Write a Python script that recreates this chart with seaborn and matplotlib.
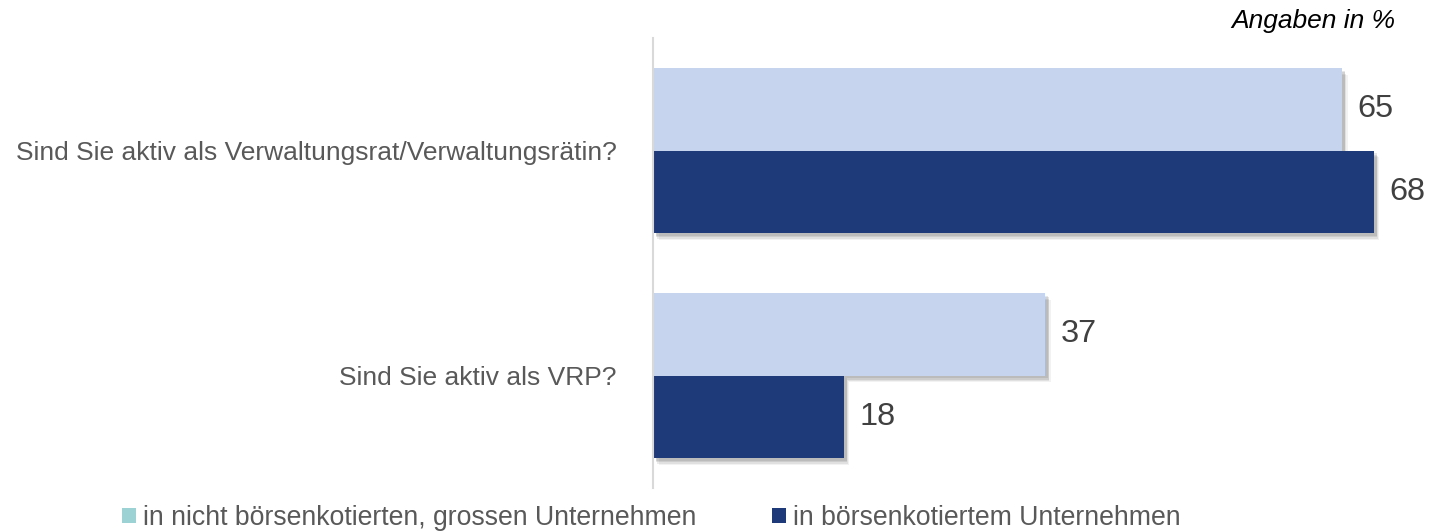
import matplotlib
matplotlib.use("Agg")
import matplotlib.pyplot as plt
import matplotlib.patheffects as pe
from matplotlib.patches import Patch
import seaborn as sns
import pandas as pd

categories = ["Sind Sie aktiv als Verwaltungsrat/Verwaltungsrätin?", "Sind Sie aktiv als VRP?"]
series_names = ["in nicht börsenkotierten, grossen Unternehmen", "in börsenkotiertem Unternehmen"]
values_nicht = [65, 37]
values_kotiert = [68, 18]
note = "Angaben in %"

bar_colors = ["#C6D4EE", "#1F3A78"]
legend_colors = ["#9DD2D5", "#1F3A78"]

rows = []
for c, a, b in zip(categories, values_nicht, values_kotiert):
    rows.append({"cat": c, "series": series_names[0], "val": a})
    rows.append({"cat": c, "series": series_names[1], "val": b})
df = pd.DataFrame(rows)

sns.set_style("white")
plt.rcParams['font.family'] = ['Liberation Sans', 'DejaVu Sans']

W, H = 1429, 532
fig = plt.figure(figsize=(W / 100, H / 100), dpi=100)
ax = fig.add_axes([653 / W, 1 - 488 / H, (1400 - 653) / W, (488 - 38) / H])

sns.barplot(data=df, y="cat", x="val", hue="series", order=categories,
            hue_order=series_names, palette=bar_colors, width=0.733,
            orient="h", ax=ax, legend=False, saturation=1, linewidth=0, edgecolor="none")

shadow = []
for off, a in [((4, -5), 0.08), ((3, -4), 0.12), ((2.5, -3), 0.15), ((2, -2), 0.15)]:
    shadow.append(pe.SimplePatchShadow(offset=off, shadow_rgbFace="#606060", alpha=a))
for p in ax.patches:
    p.set_path_effects(shadow + [pe.Normal()])

for cont in ax.containers:
    ax.bar_label(cont, padding=11, fontsize=23.4, color="#404040")

ax.set_xlim(0, (1400 - 653) / 10.6)
ax.set_ylim(1.5, -0.5)
ax.set_xlabel("")
ax.set_ylabel("")
ax.set_xticks([])
ax.tick_params(axis="y", length=0, pad=26, labelsize=19.0, labelcolor="#595959")
for s in ["top", "right", "bottom"]:
    ax.spines[s].set_visible(False)
ax.spines["left"].set_color("#D9D9D9")
ax.spines["left"].set_linewidth(1.5)

fig.text(1395 / W, 1 - 21 / H, note, ha="right", va="center", fontsize=19, style="italic", color="#000000")

for i, x0 in enumerate([122, 772]):
    leg = fig.legend([Patch(facecolor=legend_colors[i], edgecolor="none")], [series_names[i]],
                     loc="center left", bbox_to_anchor=(x0 / W, 1 - 518 / H),
                     frameon=False, fontsize=19.2, handlelength=0.52, handleheight=0.52,
                     handletextpad=0.26, borderpad=0, borderaxespad=0, labelcolor="#595959")

fig.savefig("out.png", dpi=100, facecolor="white")
